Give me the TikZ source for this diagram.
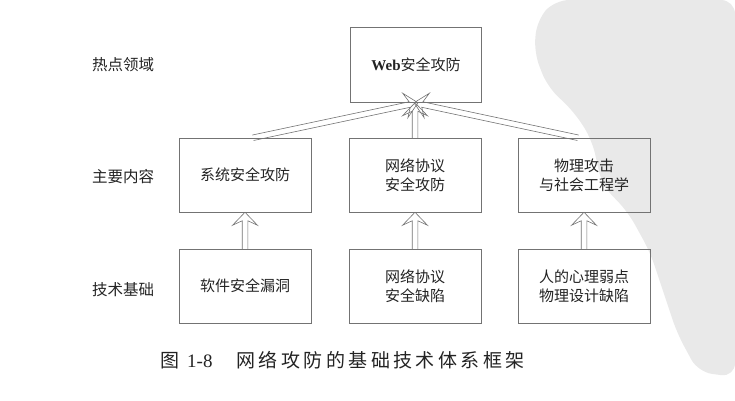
\documentclass[tikz,border=0pt]{standalone}
\usepackage{fontspec}
\setmainfont{Noto Sans CJK SC}
\newfontfamily\latin{Liberation Serif}
\usepackage{tikz}
\usetikzlibrary{calc}
\definecolor{LineGray}{RGB}{115,115,115}
\definecolor{InkGray}{RGB}{35,35,35}
\definecolor{SealGray}{RGB}{233,233,233}

\begin{document}
\begin{tikzpicture}[x=1pt,y=-1pt,
  box/.style={draw=LineGray,line width=0.5pt,minimum width=132pt,minimum height=74pt,
    align=center,text=InkGray,font=\fontsize{15}{19}\selectfont},
  level/.style={text=InkGray,font=\fontsize{15.5}{18}\selectfont},
  hollow/.style={draw=LineGray,line width=0.6pt,to path={
    let \p1=(\tikztostart), \p2=(\tikztotarget),
        \n1={atan2(\y2-\y1,\x2-\x1)}, \n2={veclen(\x2-\x1,\y2-\y1)} in
    {[shift={(\p1)},rotate=\n1]
      (0pt,-2.8pt) -- (\n2-8.5pt,-2.8pt) -- (\n2-13pt,-12.5pt) -- (\n2,0pt)
      -- (\n2-13pt,12.5pt) -- (\n2-8.5pt,2.8pt) -- (0pt,2.8pt)}}}]
  \useasboundingbox (0,0) rectangle (735,400);
  % seal behind the right column
  \fill[SealGray,rounded corners=14pt] (555,0) -- (537,20) -- (534,52) -- (547,86) -- (575,113)
    -- (592,140) -- (602,185) -- (628,212) -- (650,252) -- (677,333) -- (698,372)
    -- (735,377) -- (735,0) -- cycle;

  \node[level] (lvhot) at (123,65) {热点领域};
  \node[level] (lvmain) at (123,177) {主要内容};
  \node[level] (lvbase) at (123,290) {技术基础};

  \node[box,minimum width=131pt,minimum height=75pt] (web) at (416,65) {{\latin\bfseries Web}安全攻防};

  \node[box] (sys) at (245,175) {系统安全攻防};
  \node[box] (netatk) at (415,175) {网络协议\\安全攻防};
  \node[box] (phys) at (584,175) {物理攻击\\与社会工程学};

  \node[box] (vuln) at (245,286) {软件安全漏洞};
  \node[box] (netbug) at (415,286) {网络协议\\安全缺陷};
  \node[box] (human) at (584,286) {人的心理弱点\\物理设计缺陷};

  \draw[hollow] (vuln.north) to (sys.south);
  \draw[hollow] (netbug.north) to (netatk.south);
  \draw[hollow] (human.north) to (phys.south);
  \draw[hollow] ([xshift=8pt]sys.north) to ([xshift=2pt]web.south);
  \draw[hollow] (netatk.north) to (netatk.north |- web.south);
  \draw[hollow] ([xshift=-6pt]phys.north) to ([xshift=-2pt]web.south);

  \node[anchor=west,text=InkGray,font=\fontsize{19}{22}\selectfont] (caption) at (157,360)
    {\addfontfeatures{LetterSpace=18}图 {\latin 1-8}\hspace{24pt}网络攻防的基础技术体系框架};
\end{tikzpicture}
\end{document}
